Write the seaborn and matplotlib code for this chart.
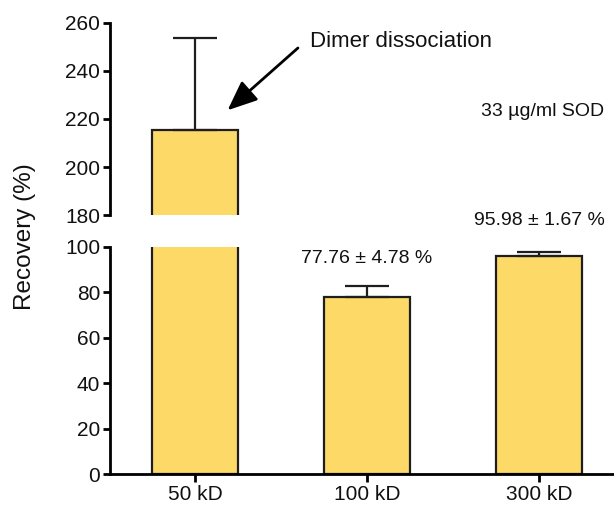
import numpy as np
import matplotlib
matplotlib.use("Agg")
import matplotlib.pyplot as plt
import seaborn as sns

# Recovery of 33 µg/ml SOD after ultrafiltration through different MWCO membranes
categories = ["50 kD", "100 kD", "300 kD"]
recovery_mean = [215.3, 77.76, 95.98]
recovery_sd = [38.2, 4.78, 1.67]
value_labels = [None, "77.76 ± 4.78 %", "95.98 ± 1.67 %"]

top_ticks = [180, 200, 220, 240, 260]
bottom_ticks = [0, 20, 40, 60, 80, 100]

sns.set_style("ticks")
plt.rcParams["font.family"] = ["Liberation Sans", "DejaVu Sans"]

bar_color = "#FDD968"
edge_color = "#1e1e1e"

fig = plt.figure(figsize=(6.14, 5.05), dpi=100)
ax_top = fig.add_axes([0.179, 0.574, 0.821, 0.381])
ax_bot = fig.add_axes([0.179, 0.0608, 0.821, 0.4507])

x = np.arange(len(categories))
for ax in (ax_top, ax_bot):
    sns.barplot(x=categories, y=recovery_mean, ax=ax, color=bar_color,
                saturation=1, edgecolor=edge_color, linewidth=1.6, width=0.5,
                errorbar=None)
    ax.errorbar(x, recovery_mean,
                yerr=[np.zeros(len(recovery_sd)), recovery_sd],
                fmt="none", ecolor=edge_color, elinewidth=1.6,
                capsize=15.8, capthick=1.6, zorder=1)
    ax.set_xlim(-0.494, 2.436)
    ax.set_ylabel("")
    ax.set_xlabel("")
    for side in ("left", "bottom"):
        ax.spines[side].set_linewidth(2.0)
        ax.spines[side].set_color("black")
    ax.spines["right"].set_visible(False)
    ax.spines["top"].set_visible(False)
    ax.tick_params(axis="both", which="major", direction="out", length=5,
                   width=2.0, labelsize=15, color="black", labelcolor="#111111",
                   pad=2)

# upper segment of the broken axis
ax_top.set_ylim(180, 260)
ax_top.set_yticks(top_ticks)
ax_top.spines["bottom"].set_visible(False)
ax_top.tick_params(axis="x", bottom=False, labelbottom=False)
ax_top.set_yticks([180], minor=True)
ax_top.tick_params(axis="y", which="minor", direction="in", length=5, width=2.0)

# lower segment of the broken axis
ax_bot.set_ylim(0, 100)
ax_bot.set_yticks(bottom_ticks)
ax_bot.set_yticks([100], minor=True)
ax_bot.tick_params(axis="y", which="minor", direction="in", length=5, width=2.0)
ax_bot.tick_params(axis="x", length=6, pad=1.5)

fig.text(0.041, 0.532, "Recovery (%)", rotation=90, ha="center", va="center",
         fontsize=17.5, color="#111111")

# value labels above the bars
label_y = {1: 95.0, 2: 111.3}
for i, lab in enumerate(value_labels):
    if lab:
        ax_bot.text(x[i], label_y[i], lab, ha="center", va="center",
                    fontsize=14, color="#111111", clip_on=False)

ax_top.text(2.023, 223.2, "33 µg/ml SOD", ha="center", va="center",
            fontsize=14, color="#111111")

ax_top.annotate("", xy=(0.19, 223.6), xytext=(0.599, 249.5),
                arrowprops=dict(arrowstyle="-|>,head_length=1.3,head_width=0.55",
                                color="black", lw=2, mutation_scale=14,
                                shrinkA=0, shrinkB=0),
                annotation_clip=False)
ax_top.text(0.669, 252, "Dimer dissociation", ha="left", va="center",
            fontsize=16, color="#111111")

fig.savefig("out.png", dpi=100)
